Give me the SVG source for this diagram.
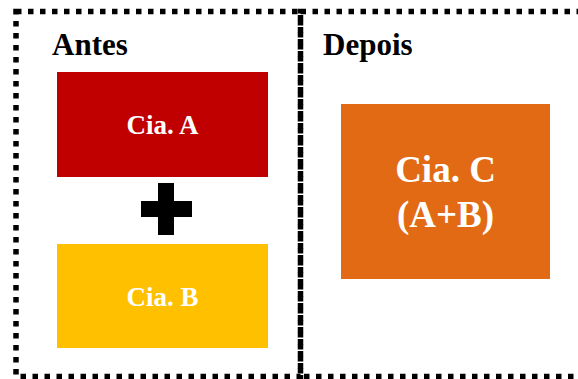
<svg xmlns="http://www.w3.org/2000/svg" width="578" height="379" viewBox="0 0 578 379">
  <style>
    .frame { fill: none; stroke: #000; stroke-width: 5.5; stroke-dasharray: 5.5 6.5; }
    .title { font-family: "Liberation Serif", "Times New Roman", serif; font-weight: bold; font-size: 31px; fill: #000; }
    .label { font-family: "Liberation Serif", "Times New Roman", serif; font-weight: bold; fill: #fff; text-anchor: middle; }
  </style>
  <rect width="578" height="379" fill="#fff"/>

  <!-- dotted panels; the right panel runs past the right edge -->
  <g id="panels">
    <rect class="frame" x="16" y="11.5" width="284.5" height="365"/>
    <rect class="frame" x="300.5" y="11.5" width="290" height="365"/>
  </g>

  <text class="title" x="52" y="55">Antes</text>
  <text class="title" x="323" y="55">Depois</text>

  <g id="cia-a">
    <rect x="57" y="72" width="211" height="105" fill="#C00000"/>
    <text class="label" x="162.5" y="134" font-size="27">Cia. A</text>
  </g>

  <g id="plus">
    <rect x="158" y="183" width="16" height="52" fill="#000"/>
    <rect x="141" y="201" width="51" height="16" fill="#000"/>
  </g>

  <g id="cia-b">
    <rect x="57" y="244" width="211" height="104" fill="#FFC000"/>
    <text class="label" x="162.5" y="306" font-size="27">Cia. B</text>
  </g>

  <g id="cia-c">
    <rect x="341" y="104" width="209" height="175" fill="#E26A15"/>
    <text class="label" x="445.5" y="182" font-size="37">Cia. C</text>
    <text class="label" x="445.5" y="227" font-size="37">(A+B)</text>
  </g>

  <g id="connectors"/>
</svg>
